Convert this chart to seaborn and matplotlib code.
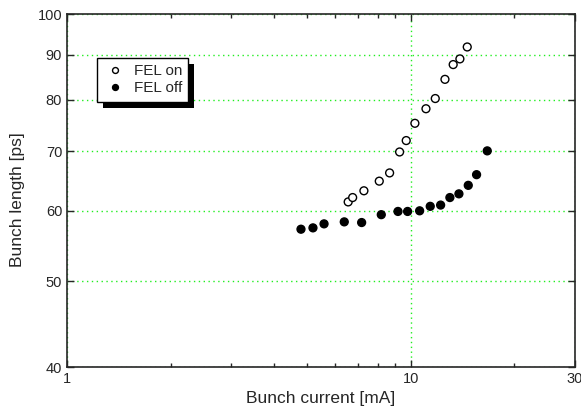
import pandas as pd
import matplotlib
matplotlib.use('Agg')
import matplotlib.pyplot as plt
import matplotlib.ticker as mticker
from matplotlib.patches import Rectangle
import seaborn as sns

# Bunch length vs bunch current
current_on = [6.57, 6.77, 7.30, 8.09, 8.67, 9.27, 9.69, 10.27, 11.06, 11.77, 12.56, 13.27, 13.88, 14.58]
length_on = [61.4, 62.1, 63.2, 64.8, 66.2, 69.9, 72.0, 75.3, 78.2, 80.3, 84.4, 87.7, 89.0, 91.8]

current_off = [4.79, 5.19, 5.59, 6.40, 7.19, 8.20, 9.17, 9.78, 10.60, 11.38, 12.20, 12.98, 13.79, 14.68, 15.52, 16.67]
length_off = [57.2, 57.4, 58.0, 58.3, 58.2, 59.4, 59.9, 59.9, 60.0, 60.7, 60.9, 62.1, 62.7, 64.1, 65.9, 70.1]

y_ticks = [40, 50, 60, 70, 80, 90, 100]
x_ticks = [1, 10, 30]
x_minor = [2, 3, 4, 5, 6, 7, 8, 9, 20]

df = pd.DataFrame({
    'current': current_on + current_off,
    'length': length_on + length_off,
    'state': ['FEL on'] * len(current_on) + ['FEL off'] * len(current_off),
})

sns.set_style('ticks')
plt.rcParams['font.family'] = ['Liberation Sans', 'DejaVu Sans']

fig = plt.figure(figsize=(5.81, 4.17), dpi=100)
ax = fig.add_axes([0.1153, 0.1199, 0.8744, 0.8465])

sns.scatterplot(data=df, x='current', y='length', hue='state',
                palette={'FEL on': 'white', 'FEL off': 'black'},
                edgecolor='black', linewidth=1.0, s=32, ax=ax, zorder=3)

ax.set_xscale('log')
ax.set_yscale('log')
ax.set_xlim(1, 30)
ax.set_ylim(40, 100)

ax.xaxis.set_major_locator(mticker.FixedLocator(x_ticks))
ax.xaxis.set_major_formatter(mticker.FixedFormatter([str(v) for v in x_ticks]))
ax.xaxis.set_minor_locator(mticker.FixedLocator(x_minor))
ax.xaxis.set_minor_formatter(mticker.NullFormatter())
ax.yaxis.set_major_locator(mticker.FixedLocator(y_ticks))
ax.yaxis.set_major_formatter(mticker.FixedFormatter([str(v) for v in y_ticks]))
ax.yaxis.set_minor_locator(mticker.NullLocator())

ax.tick_params(which='both', direction='in', top=True, right=True, labelsize=10.5, width=1)
ax.tick_params(which='major', length=5)
ax.tick_params(which='minor', length=3)

ax.grid(True, which='major', color='#22ee22', linestyle=(0, (1, 2.5)), linewidth=1.0)
for sp in ax.spines.values():
    sp.set_linewidth(1.2)
    sp.set_visible(True)

ax.set_xlabel('Bunch current [mA]', fontsize=12.5)
ax.set_ylabel('Bunch length [ps]', fontsize=12.5)
ax.yaxis.set_label_coords(-0.083, 0.473)

leg = ax.legend(loc='upper left', bbox_to_anchor=(0.0596, 0.8745), borderaxespad=0,
                fontsize=11, frameon=True, fancybox=False, edgecolor='black', framealpha=1,
                handletextpad=0.5, borderpad=0.4, labelspacing=0.2, handlelength=1.5,
                markerscale=0.75)
leg.get_frame().set_linewidth(1.0)
leg.set_zorder(6)

# black drop shadow behind the legend box
fig.canvas.draw()
bb = leg.get_frame().get_window_extent()
W, H = fig.bbox.width, fig.bbox.height
shadow = Rectangle(((bb.x0 + 6) / W, (bb.y0 - 6) / H), bb.width / W, bb.height / H,
                   transform=fig.transFigure, facecolor='black', edgecolor='none',
                   zorder=5.5, clip_on=False)
ax.add_patch(shadow)

fig.savefig('out.png', dpi=100)
